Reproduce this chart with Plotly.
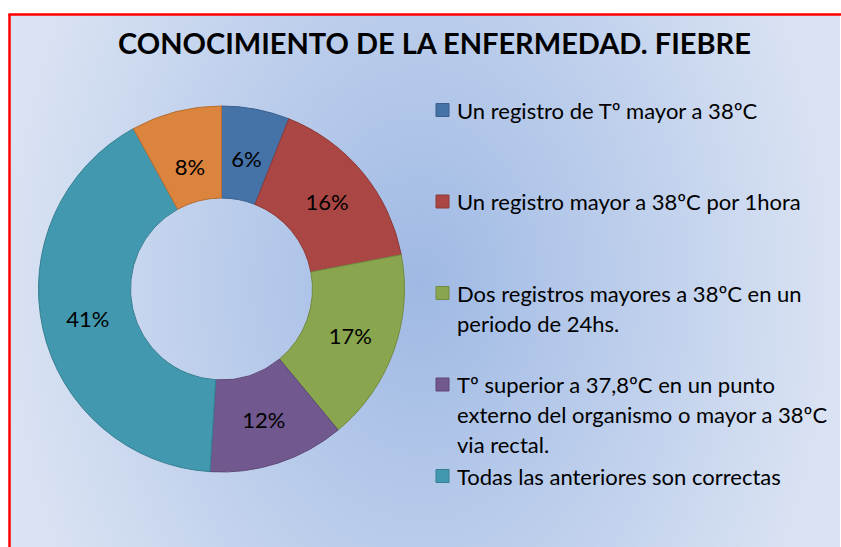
import plotly.graph_objects as go

W, H = 841, 547

# data
labels = [
    "Un registro de Tº mayor a 38ºC",
    "Un registro mayor a 38ºC por 1hora",
    "Dos registros mayores a 38ºC en un<br>periodo de 24hs.",
    "Tº superior a 37,8ºC en un punto<br>externo del organismo o mayor a 38ºC<br>via rectal.",
    "Todas las anteriores son correctas",
    "Otra",
]
values = [6, 16, 17, 12, 41, 8]
colors = ["#4572a7", "#aa4643", "#89a54e", "#71588f", "#4198af", "#db843d"]
edges = ["#3a5f8c", "#8e3a38", "#728a41", "#5e4977", "#367f92", "#b66e33"]
legend_count = 5  # the orange item is not shown in the original legend
narrow = [0, 5]   # thin slices whose labels sit on the ring's middle

title = "CONOCIMIENTO DE LA ENFERMEDAD. FIEBRE"
FONT = "Lato"


def px(x):
    return x / W


def py(y):
    return 1 - y / H


# pie placement (pixels): centre, outer and inner radius
cx, cy, r, r_in = 221.5, 289, 183, 91

fig = go.Figure()

# gradient background, clipped to the area inside the red frame
fig.add_trace(go.Scatter(
    x=[0, 840, 840, 0, 0], y=[-305, -305, 875, 875, -305],
    mode="lines", line=dict(width=0), fill="toself",
    fillgradient=dict(type="radial",
                      colorscale=[[0, "#9fb9e4"], [1, "#dae3f3"]]),
    hoverinfo="skip", showlegend=False,
))

fig.add_trace(go.Pie(
    labels=labels, values=values, hole=r_in / r, sort=False,
    direction="clockwise", rotation=0,
    marker=dict(colors=colors, line=dict(color=edges, width=1)),
    text=["" if i in narrow else f"{v}%" for i, v in enumerate(values)],
    textinfo="text", textposition="inside",
    insidetextorientation="horizontal",
    textfont=dict(family=FONT, size=22, color="black"),
    domain=dict(x=[px(cx - r), px(cx + r)], y=[py(cy + r), py(cy - r)]),
    showlegend=False,
))

# transparent copy with a smaller radius, carrying the labels of thin slices
r2 = 158
fig.add_trace(go.Pie(
    labels=labels, values=values, hole=r_in / r2, sort=False,
    direction="clockwise", rotation=0,
    marker=dict(colors=["rgba(0,0,0,0)"] * len(values), line=dict(width=0)),
    text=[f"{v}%" if i in narrow else "" for i, v in enumerate(values)],
    textinfo="text", textposition="inside",
    insidetextorientation="horizontal",
    textfont=dict(family=FONT, size=22, color="black"),
    domain=dict(x=[px(cx - r2), px(cx + r2)], y=[py(cy + r2), py(cy - r2)]),
    showlegend=False, hoverinfo="skip",
))

# legend drawn in Excel style: fixed spacing between entries
annotations = [dict(
    text="<b>" + title + "</b>", x=px(434), y=py(43), xref="paper", yref="paper",
    xanchor="center", yanchor="middle", showarrow=False,
    font=dict(family=FONT, size=29, color="black"),
)]
shapes = []
for i in range(legend_count):
    yc = 110 + 91.5 * i
    for j, line in enumerate(labels[i].split("<br>")):
        annotations.append(dict(
            text=line, x=px(455), y=py(yc + 30 * j), xref="paper", yref="paper",
            xanchor="left", yanchor="middle", showarrow=False,
            font=dict(family=FONT, size=22, color="black"),
        ))
    shapes.append(dict(
        type="rect", xref="paper", yref="paper",
        x0=px(436), x1=px(449), y0=py(yc + 6.5), y1=py(yc - 6.5),
        fillcolor=colors[i], line=dict(color=edges[i], width=1),
    ))

# red frame (right and bottom edges fall outside the picture)
shapes.append(dict(type="line", xref="paper", yref="paper",
                   x0=px(9.5), x1=px(9.5), y0=0, y1=py(14),
                   line=dict(color="#ff0000", width=2.5)))
shapes.append(dict(type="line", xref="paper", yref="paper",
                   x0=px(8.5), x1=1, y0=py(14.5), y1=py(14.5),
                   line=dict(color="#ff0000", width=2.5)))

fig.update_layout(
    width=W, height=H, margin=dict(l=0, r=0, t=0, b=0),
    paper_bgcolor="white", plot_bgcolor="rgba(0,0,0,0)",
    xaxis=dict(range=[9.5, W], domain=[px(9.5), 1], visible=False, fixedrange=True),
    yaxis=dict(range=[H, 14.5], domain=[0, py(14.5)], visible=False, fixedrange=True),
    annotations=annotations, shapes=shapes,
    showlegend=False,
)

# drop the browser's default body margin so the figure fills the window
fig.write_html("out.html",
               config={"displayModeBar": False},
               post_script="document.body.style.margin='0';"
                           "document.body.style.overflow='hidden';")
